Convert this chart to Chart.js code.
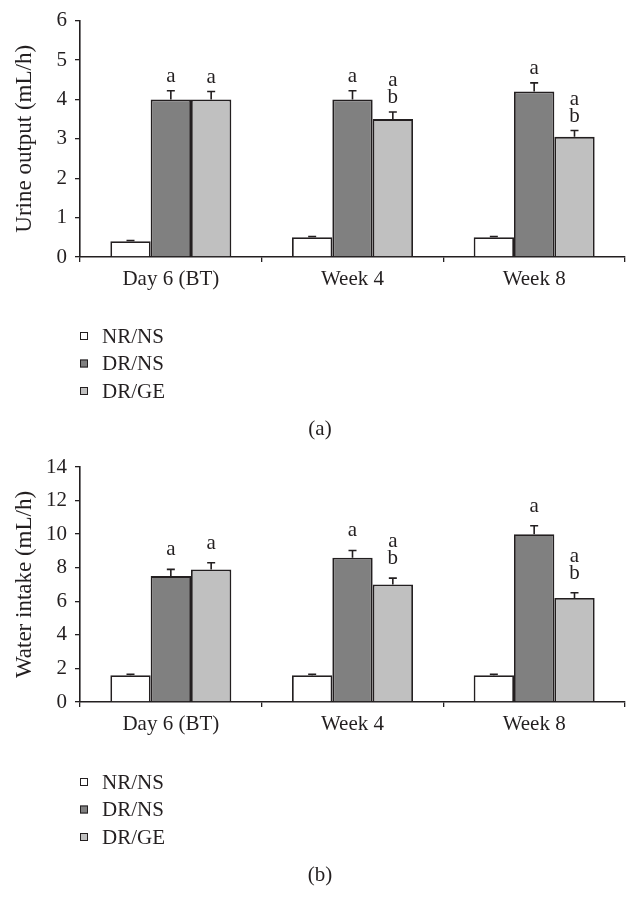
<!DOCTYPE html>
<html>
<head>
<meta charset="utf-8">
<script src="https://cdn.jsdelivr.net/npm/chart.js@4.4.1/dist/chart.umd.min.js"></script>
<style>
  html, body { margin: 0; padding: 0; background: #fff; }
  canvas { display: block; }
</style>
</head>
<body>
<canvas id="urineChart" width="640" height="446"></canvas>
<canvas id="waterChart" width="640" height="472"></canvas>
<script>
// categories and groups
const categories = ["Day 6 (BT)", "Week 4", "Week 8"];
const groups = ["NR/NS", "DR/NS", "DR/GE"];
const groupColors = ["#ffffff", "#808080", "#c0c0c0"];

// (a) urine output, mL/h
const urineNRNS = [0.4, 0.5, 0.5];
const urineDRNS = [4.0, 4.0, 4.2];
const urineDRGE = [4.0, 3.5, 3.05];
const urineErrNRNS = [0.02, 0.02, 0.02];
const urineErrDRNS = [0.22, 0.22, 0.22];
const urineErrDRGE = [0.2, 0.18, 0.16];

// (b) water intake, mL/h
const waterNRNS = [1.6, 1.6, 1.6];
const waterDRNS = [7.5, 8.6, 10.0];
const waterDRGE = [7.9, 7.0, 6.2];
const waterErrNRNS = [0.05, 0.05, 0.05];
const waterErrDRNS = [0.4, 0.43, 0.5];
const waterErrDRGE = [0.4, 0.38, 0.31];

// significance letters
const marksNRNS = [[], [], []];
const marksDRNS = [["a"], ["a"], ["a"]];
const marksDRGE = [["a"], ["a", "b"], ["a", "b"]];

const ink = "#231f20";
const serif = "'Liberation Serif', 'DejaVu Serif', serif";

// error bars, letters, legend and panel caption
const annotate = {
  id: "annotate",
  afterDatasetsDraw(chart, args, opts) {
    const { ctx } = chart;
    const y = chart.scales.y;
    ctx.save();
    ctx.strokeStyle = ink;
    ctx.fillStyle = ink;
    ctx.lineWidth = 1.6;
    ctx.font = "21px " + serif;
    ctx.textAlign = "center";
    ctx.textBaseline = "alphabetic";
    chart.data.datasets.forEach((ds, i) => {
      const meta = chart.getDatasetMeta(i);
      meta.data.forEach((bar, j) => {
        const top = y.getPixelForValue(ds.data[j] + ds.errors[j]);
        ctx.beginPath();
        ctx.moveTo(bar.x, bar.y);
        ctx.lineTo(bar.x, top);
        ctx.moveTo(bar.x - 4, top);
        ctx.lineTo(bar.x + 4, top);
        ctx.stroke();
        const m = ds.marks[j];
        for (let k = 0; k < m.length; k++) {
          const base = top - opts.gap - (m.length - 1 - k) * 17;
          ctx.fillText(m[k], bar.x, base);
        }
      });
    });
    ctx.restore();
  },
  afterDraw(chart, args, opts) {
    const { ctx } = chart;
    ctx.save();
    ctx.font = "21px " + serif;
    ctx.textBaseline = "middle";
    ctx.textAlign = "left";
    chart.data.datasets.forEach((ds, i) => {
      const cy = opts.legendY + i * 27.5;
      ctx.fillStyle = ds.backgroundColor;
      ctx.fillRect(80, cy - 4, 8, 8);
      ctx.strokeStyle = ink;
      ctx.lineWidth = 1;
      ctx.strokeRect(80.5, cy - 3.5, 7, 7);
      ctx.fillStyle = ink;
      ctx.fillText(ds.label, 102, cy + 1);
    });
    ctx.textAlign = "center";
    ctx.fillText(opts.caption, 320, opts.captionY);
    ctx.restore();
  }
};

function makeDatasets(values, errors) {
  return groups.map((g, i) => ({
    label: g,
    data: values[i],
    errors: errors[i],
    marks: [marksNRNS, marksDRNS, marksDRGE][i],
    backgroundColor: groupColors[i],
    borderColor: ink,
    borderWidth: 1.8,
    barPercentage: 1,
    categoryPercentage: 0.666
  }));
}

function makeChart(id, datasets, max, step, title, xHeight, topPad, gap, caption) {
  return new Chart(document.getElementById(id), {
    type: "bar",
    data: { labels: categories, datasets },
    plugins: [annotate],
    options: {
      responsive: false,
      animation: false,
      layout: { padding: { top: topPad, right: 15, left: 0, bottom: 0 } },
      plugins: {
        legend: { display: false },
        tooltip: { enabled: false },
        annotate: { gap, legendY: 336, caption, captionY: 429 }
      },
      scales: {
        x: {
          grid: { offset: true, drawOnChartArea: false, tickLength: 5, color: ink, lineWidth: 1.3 },
          border: { color: ink, width: 1.6 },
          ticks: { color: ink, font: { family: serif, size: 21 }, padding: 5, maxRotation: 0 },
          afterFit: s => { s.height = xHeight; }
        },
        y: {
          min: 0,
          max,
          ticks: { stepSize: step, color: ink, font: { family: serif, size: 21 }, padding: 8 },
          grid: { drawOnChartArea: false, tickLength: 5, color: ink, lineWidth: 1.3 },
          border: { color: ink, width: 1.6 },
          title: { display: true, text: title, color: ink, font: { family: serif, size: 23 }, padding: { top: 11, bottom: 0 } },
          afterFit: s => { s.width = 80; }
        }
      }
    }
  });
}

makeChart("urineChart",
  makeDatasets([urineNRNS, urineDRNS, urineDRGE], [urineErrNRNS, urineErrDRNS, urineErrDRGE]),
  6, 1, "Urine output (mL/h)", 189, 20, 9, "(a)");

makeChart("waterChart",
  makeDatasets([waterNRNS, waterDRNS, waterDRGE], [waterErrNRNS, waterErrDRNS, waterErrDRGE]),
  14, 2, "Water intake (mL/h)", 216, 21, 14, "(b)");
</script>
</body>
</html>
